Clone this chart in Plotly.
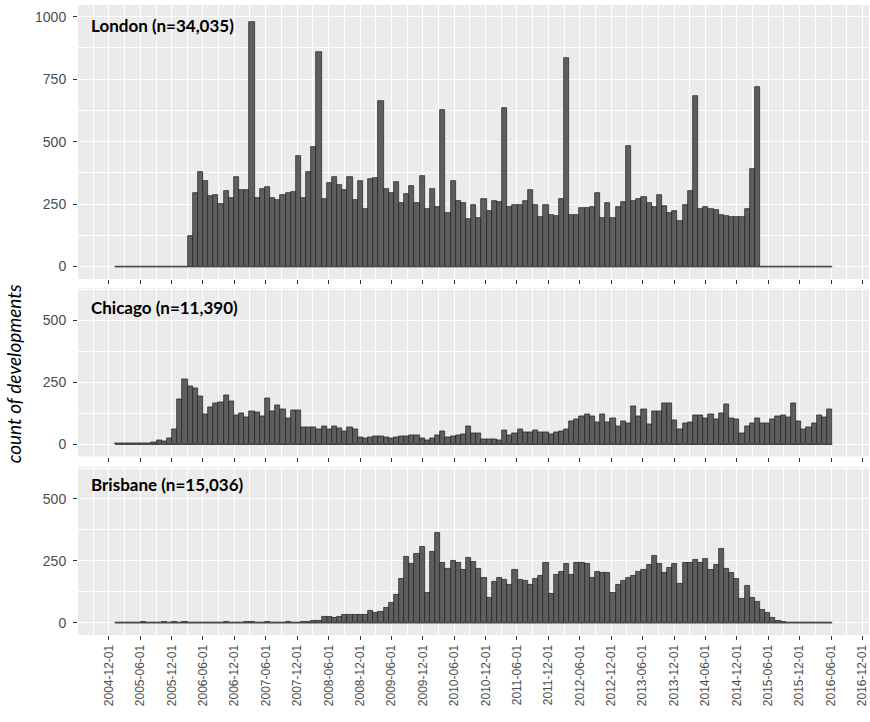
import pandas as pd
import plotly.graph_objects as go

# Histogram bins: 30-day bins of development counts
BIN_START = "2005-01-07"
BIN_DAYS = 30

london = [
    0, 0, 0, 0, 0, 0, 0, 0, 0, 0, 0, 0, 0, 0,
    123, 293, 379, 341, 283, 285, 251, 304, 275, 360, 307, 307, 980, 275,
    312, 317, 275, 267, 285, 296, 299, 443, 275, 379, 480, 860, 269, 333,
    360, 325, 307, 357, 267, 344, 229, 352, 355, 661, 312, 296, 339, 256,
    291, 323, 256, 363, 232, 309, 237, 627, 216, 341, 261, 256, 189, 245,
    195, 269, 224, 261, 259, 633, 240, 245, 245, 264, 307, 245, 200, 245,
    208, 203, 269, 836, 208, 208, 235, 235, 237, 293, 193, 253, 193, 237,
    259, 484, 264, 272, 280, 253, 240, 288, 243, 216, 221, 184, 245, 301,
    683, 232, 240, 229, 227, 205, 203, 197, 197, 197, 232, 392, 720,
    0, 0, 0, 0, 0, 0, 0, 0, 0, 0, 0, 0, 0, 0,
]

chicago = [
    3, 3, 4, 3, 3, 4, 3, 7, 15, 12, 23, 58, 183, 261, 233, 224, 193, 121,
    147, 166, 171, 197, 174, 115, 125, 109, 131, 129, 111, 185, 131, 159,
    139, 104, 137, 136, 67, 67, 67, 59, 71, 59, 73, 63, 50, 67, 62, 28,
    23, 27, 31, 30, 26, 23, 28, 31, 30, 36, 34, 23, 15, 23, 36, 51, 26,
    31, 36, 40, 71, 43, 43, 18, 18, 20, 15, 57, 34, 43, 62, 49, 49, 57,
    49, 47, 38, 47, 51, 62, 94, 100, 111, 120, 111, 88, 119, 89, 105, 74,
    94, 84, 152, 111, 140, 82, 132, 132, 166, 166, 98, 62, 85, 88, 115,
    115, 105, 120, 101, 123, 160, 105, 100, 42, 73, 84, 104, 85, 85, 101,
    112, 116, 109, 166, 93, 61, 70, 85, 117, 108, 139,
]

brisbane = [
    0, 0, 0, 0, 0, 3, 0, 0, 0, 3, 0, 3, 0, 3, 0, 0, 0, 0, 0, 0, 0, 3,
    0, 0, 0, 3, 3, 0, 0, 3, 0, 0, 0, 3, 0, 0,
    5, 5, 6, 8, 24, 24, 19, 24, 32, 32, 32, 30, 32, 47, 38, 45, 61, 81,
    114, 176, 268, 236, 277, 308, 122, 286, 365, 243, 216, 251, 242, 214,
    264, 246, 219, 182, 100, 165, 180, 173, 154, 214, 172, 168, 155, 176,
    189, 243, 118, 195, 205, 236, 195, 242, 242, 238, 181, 207, 203, 200,
    119, 153, 170, 180, 189, 205, 212, 232, 270, 238, 200, 222, 238, 159,
    242, 242, 254, 241, 259, 214, 235, 299, 219, 200, 178, 95, 149, 100,
    84, 51, 38, 18, 8, 4, 1, 0, 0, 0, 0, 0, 0, 0, 0,
]

cities = ["London", "Chicago", "Brisbane"]
totals = ["34,035", "11,390", "15,036"]
series = [london, chicago, brisbane]
y_tick_values = [[0, 250, 500, 750, 1000], [0, 250, 500], [0, 250, 500]]

bin_starts = pd.date_range(BIN_START, periods=len(london), freq=f"{BIN_DAYS}D")
bin_centers = bin_starts + pd.Timedelta(days=BIN_DAYS / 2)
bin_end = bin_starts[-1] + pd.Timedelta(days=BIN_DAYS)
bar_width_ms = BIN_DAYS * 24 * 3600 * 1000

# Panel layout (paper fractions) and value ranges per panel
y_domains = [[0.5651, 1.0], [0.2833, 0.5503], [0.0, 0.267]]
y_ranges = [[-50, 1047], [-50, 630], [-50, 630]]
label_y = [0.927, 0.883, 0.894]

x_range = ["2004-06-04", "2017-01-08"]

PANEL_BG = "#EBEBEB"
TICK_FONT = dict(family="Liberation Sans, Arial, sans-serif", size=14, color="#4D4D4D")
XTICK_FONT = dict(family="Liberation Sans, Arial, sans-serif", size=12, color="#4D4D4D")

fig = go.Figure()

for i, (city, vals) in enumerate(zip(cities, series)):
    suffix = "" if i == 0 else str(i + 1)
    xa, ya = "x" + suffix, "y" + suffix

    # zero-count bins show as a flat outline along the baseline
    fig.add_trace(go.Scatter(
        x=[bin_starts[0], bin_end], y=[0, 0], mode="lines",
        line=dict(color="#4A4A4A", width=1.6),
        xaxis=xa, yaxis=ya, showlegend=False, hoverinfo="skip",
    ))
    fig.add_trace(go.Bar(
        x=bin_centers, y=vals, width=bar_width_ms,
        marker=dict(color="#5E5E5E", line=dict(color="#1F1F1F", width=0.7)),
        xaxis=xa, yaxis=ya, showlegend=False,
    ))

    last = i == len(cities) - 1
    fig.layout["xaxis" + suffix] = dict(
        type="date", range=x_range, domain=[0, 1], anchor=ya,
        tick0="2004-12-01", dtick="M6", tickformat="%Y-%m-%d",
        ticks="outside", ticklen=4, tickwidth=1, tickcolor="#333333",
        showticklabels=last, tickangle=-90, tickfont=XTICK_FONT,
        showgrid=True, gridcolor="white", gridwidth=1.1,
        minor=dict(dtick="M3", tick0="2004-12-01", showgrid=True,
                   gridcolor="white", gridwidth=0.5, ticks=""),
        showline=False, zeroline=False,
    )
    fig.layout["yaxis" + suffix] = dict(
        domain=y_domains[i], range=y_ranges[i], anchor=xa,
        tickvals=y_tick_values[i], ticks="outside", ticklen=4, tickwidth=1,
        tickcolor="#333333", tickfont=TICK_FONT, ticklabelstandoff=4,
        showgrid=True, gridcolor="white", gridwidth=1.1,
        minor=dict(dtick=125, tick0=125, showgrid=True,
                   gridcolor="white", gridwidth=0.5, ticks=""),
        showline=False, zeroline=False,
    )
    fig.add_annotation(
        text=f"{city} (n={totals[i]})",
        xref=xa + " domain", yref=ya + " domain",
        x=0.014, y=label_y[i], xanchor="left", yanchor="middle",
        showarrow=False,
        font=dict(family="Lato, sans-serif", size=17, color="black", weight="bold"),
    )

fig.add_annotation(
    text="count of developments",
    xref="paper", yref="paper", x=-0.082, y=0.414,
    xanchor="center", yanchor="middle", textangle=-90, showarrow=False,
    font=dict(family="Lato, sans-serif", size=19, color="black", style="italic"),
)

fig.update_layout(
    width=870, height=722,
    margin=dict(l=78, r=1, t=5, b=87),
    paper_bgcolor="white", plot_bgcolor=PANEL_BG,
    bargap=0, showlegend=False,
)

fig.write_html("out.html")
